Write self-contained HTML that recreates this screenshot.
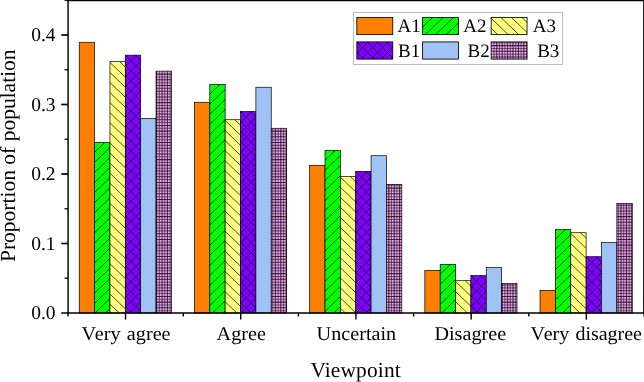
<!DOCTYPE html><html><head><meta charset="utf-8"><title>chart</title><style>html,body{margin:0;padding:0;background:#fff}svg{display:block;will-change:transform;filter:grayscale(0)}text{font-family:"Liberation Serif",serif;fill:#000;font-kerning:none;font-variant-ligatures:none;text-rendering:geometricPrecision}</style></head><body>
<svg width="644" height="382" viewBox="0 0 644 382">
<rect width="644" height="382" fill="#fff"/>
<rect x="79.24" y="42.30" width="15.36" height="270.70" fill="#FF8000"/><rect x="79.24" y="42.30" width="15.36" height="270.70" fill="none" stroke="#000" stroke-width="0.7"/>
<rect x="94.60" y="142.52" width="15.36" height="170.48" fill="#00FF00"/><path d="M94.60,152.19L104.67,142.52M94.60,162.26L109.96,147.51M94.60,172.33L109.96,157.58M94.60,182.40L109.96,167.65M94.60,192.47L109.96,177.72M94.60,202.54L109.96,187.79M94.60,212.61L109.96,197.86M94.60,222.68L109.96,207.93M94.60,232.75L109.96,218.00M94.60,242.82L109.96,228.07M94.60,252.89L109.96,238.14M94.60,262.96L109.96,248.21M94.60,273.03L109.96,258.28M94.60,283.10L109.96,268.35M94.60,293.17L109.96,278.42M94.60,303.24L109.96,288.49M94.92,313.00L109.96,298.56M105.41,313.00L109.96,308.63" stroke="#000" stroke-width="0.7" fill="none"/><rect x="94.60" y="142.52" width="15.36" height="170.48" fill="none" stroke="#000" stroke-width="0.7"/>
<rect x="109.96" y="61.62" width="15.36" height="251.38" fill="#FFFF80"/><path d="M119.62,61.62L125.32,67.09M109.96,62.42L125.32,77.16M109.96,72.49L125.32,87.23M109.96,82.56L125.32,97.30M109.96,92.63L125.32,107.37M109.96,102.70L125.32,117.44M109.96,112.77L125.32,127.51M109.96,122.84L125.32,137.58M109.96,132.91L125.32,147.65M109.96,142.98L125.32,157.72M109.96,153.05L125.32,167.79M109.96,163.12L125.32,177.86M109.96,173.19L125.32,187.93M109.96,183.26L125.32,198.00M109.96,193.33L125.32,208.07M109.96,203.40L125.32,218.14M109.96,213.47L125.32,228.21M109.96,223.54L125.32,238.28M109.96,233.61L125.32,248.35M109.96,243.68L125.32,258.42M109.96,253.75L125.32,268.49M109.96,263.82L125.32,278.56M109.96,273.89L125.32,288.63M109.96,283.96L125.32,298.70M109.96,294.03L125.32,308.77M109.96,304.10L119.23,313.00" stroke="#000" stroke-width="0.7" fill="none"/><rect x="109.96" y="61.62" width="15.36" height="251.38" fill="none" stroke="#000" stroke-width="0.7"/>
<rect x="125.32" y="55.16" width="15.36" height="257.84" fill="#8000FF"/><path d="M125.32,56.36L126.52,55.16M125.32,66.40L136.56,55.16M125.32,76.44L140.68,61.08M125.32,86.48L140.68,71.12M125.32,96.52L140.68,81.16M125.32,106.56L140.68,91.20M125.32,116.60L140.68,101.24M125.32,126.64L140.68,111.28M125.32,136.68L140.68,121.32M125.32,146.72L140.68,131.36M125.32,156.76L140.68,141.40M125.32,166.80L140.68,151.44M125.32,176.84L140.68,161.48M125.32,186.88L140.68,171.51M125.32,196.92L140.68,181.56M125.32,206.96L140.68,191.60M125.32,217.00L140.68,201.63M125.32,227.03L140.68,211.68M125.32,237.07L140.68,221.71M125.32,247.12L140.68,231.75M125.32,257.15L140.68,241.79M125.32,267.19L140.68,251.83M125.32,277.24L140.68,261.88M125.32,287.27L140.68,271.91M125.32,297.31L140.68,281.95M125.32,307.36L140.68,292.00M129.71,313.00L140.68,302.03M139.75,313.00L140.68,312.07M135.36,55.16L140.68,60.48M125.32,55.16L140.68,70.52M125.32,65.20L140.68,80.56M125.32,75.24L140.68,90.60M125.32,85.28L140.68,100.64M125.32,95.32L140.68,110.68M125.32,105.36L140.68,120.72M125.32,115.40L140.68,130.76M125.32,125.44L140.68,140.80M125.32,135.48L140.68,150.84M125.32,145.52L140.68,160.88M125.32,155.56L140.68,170.92M125.32,165.60L140.68,180.96M125.32,175.64L140.68,191.00M125.32,185.68L140.68,201.04M125.32,195.72L140.68,211.08M125.32,205.76L140.68,221.12M125.32,215.80L140.68,231.16M125.32,225.84L140.68,241.19M125.32,235.88L140.68,251.24M125.32,245.92L140.68,261.28M125.32,255.96L140.68,271.31M125.32,266.00L140.68,281.36M125.32,276.04L140.68,291.40M125.32,286.08L140.68,301.44M125.32,296.12L140.68,311.48M125.32,306.15L132.17,313.00" stroke="#000" stroke-width="0.7" fill="none"/><rect x="125.32" y="55.16" width="15.36" height="257.84" fill="none" stroke="#000" stroke-width="0.7"/>
<rect x="140.68" y="118.40" width="15.36" height="194.60" fill="#A2C3F5"/><path d="M142.2,119.9h1M145.2,119.9h1M148.2,119.9h1M151.2,119.9h1M154.2,119.9h1M143.7,122.9h1M146.7,122.9h1M149.7,122.9h1M152.7,122.9h1M142.2,125.9h1M145.2,125.9h1M148.2,125.9h1M151.2,125.9h1M154.2,125.9h1M143.7,128.9h1M146.7,128.9h1M149.7,128.9h1M152.7,128.9h1M142.2,131.9h1M145.2,131.9h1M148.2,131.9h1M151.2,131.9h1M154.2,131.9h1M143.7,134.9h1M146.7,134.9h1M149.7,134.9h1M152.7,134.9h1M142.2,137.9h1M145.2,137.9h1M148.2,137.9h1M151.2,137.9h1M154.2,137.9h1M143.7,140.9h1M146.7,140.9h1M149.7,140.9h1M152.7,140.9h1M142.2,143.9h1M145.2,143.9h1M148.2,143.9h1M151.2,143.9h1M154.2,143.9h1M143.7,146.9h1M146.7,146.9h1M149.7,146.9h1M152.7,146.9h1M142.2,149.9h1M145.2,149.9h1M148.2,149.9h1M151.2,149.9h1M154.2,149.9h1M143.7,152.9h1M146.7,152.9h1M149.7,152.9h1M152.7,152.9h1M142.2,155.9h1M145.2,155.9h1M148.2,155.9h1M151.2,155.9h1M154.2,155.9h1M143.7,158.9h1M146.7,158.9h1M149.7,158.9h1M152.7,158.9h1M142.2,161.9h1M145.2,161.9h1M148.2,161.9h1M151.2,161.9h1M154.2,161.9h1M143.7,164.9h1M146.7,164.9h1M149.7,164.9h1M152.7,164.9h1M142.2,167.9h1M145.2,167.9h1M148.2,167.9h1M151.2,167.9h1M154.2,167.9h1M143.7,170.9h1M146.7,170.9h1M149.7,170.9h1M152.7,170.9h1M142.2,173.9h1M145.2,173.9h1M148.2,173.9h1M151.2,173.9h1M154.2,173.9h1M143.7,176.9h1M146.7,176.9h1M149.7,176.9h1M152.7,176.9h1M142.2,179.9h1M145.2,179.9h1M148.2,179.9h1M151.2,179.9h1M154.2,179.9h1M143.7,182.9h1M146.7,182.9h1M149.7,182.9h1M152.7,182.9h1M142.2,185.9h1M145.2,185.9h1M148.2,185.9h1M151.2,185.9h1M154.2,185.9h1M143.7,188.9h1M146.7,188.9h1M149.7,188.9h1M152.7,188.9h1M142.2,191.9h1M145.2,191.9h1M148.2,191.9h1M151.2,191.9h1M154.2,191.9h1M143.7,194.9h1M146.7,194.9h1M149.7,194.9h1M152.7,194.9h1M142.2,197.9h1M145.2,197.9h1M148.2,197.9h1M151.2,197.9h1M154.2,197.9h1M143.7,200.9h1M146.7,200.9h1M149.7,200.9h1M152.7,200.9h1M142.2,203.9h1M145.2,203.9h1M148.2,203.9h1M151.2,203.9h1M154.2,203.9h1M143.7,206.9h1M146.7,206.9h1M149.7,206.9h1M152.7,206.9h1M142.2,209.9h1M145.2,209.9h1M148.2,209.9h1M151.2,209.9h1M154.2,209.9h1M143.7,212.9h1M146.7,212.9h1M149.7,212.9h1M152.7,212.9h1M142.2,215.9h1M145.2,215.9h1M148.2,215.9h1M151.2,215.9h1M154.2,215.9h1M143.7,218.9h1M146.7,218.9h1M149.7,218.9h1M152.7,218.9h1M142.2,221.9h1M145.2,221.9h1M148.2,221.9h1M151.2,221.9h1M154.2,221.9h1M143.7,224.9h1M146.7,224.9h1M149.7,224.9h1M152.7,224.9h1M142.2,227.9h1M145.2,227.9h1M148.2,227.9h1M151.2,227.9h1M154.2,227.9h1M143.7,230.9h1M146.7,230.9h1M149.7,230.9h1M152.7,230.9h1M142.2,233.9h1M145.2,233.9h1M148.2,233.9h1M151.2,233.9h1M154.2,233.9h1M143.7,236.9h1M146.7,236.9h1M149.7,236.9h1M152.7,236.9h1M142.2,239.9h1M145.2,239.9h1M148.2,239.9h1M151.2,239.9h1M154.2,239.9h1M143.7,242.9h1M146.7,242.9h1M149.7,242.9h1M152.7,242.9h1M142.2,245.9h1M145.2,245.9h1M148.2,245.9h1M151.2,245.9h1M154.2,245.9h1M143.7,248.9h1M146.7,248.9h1M149.7,248.9h1M152.7,248.9h1M142.2,251.9h1M145.2,251.9h1M148.2,251.9h1M151.2,251.9h1M154.2,251.9h1M143.7,254.9h1M146.7,254.9h1M149.7,254.9h1M152.7,254.9h1M142.2,257.9h1M145.2,257.9h1M148.2,257.9h1M151.2,257.9h1M154.2,257.9h1M143.7,260.9h1M146.7,260.9h1M149.7,260.9h1M152.7,260.9h1M142.2,263.9h1M145.2,263.9h1M148.2,263.9h1M151.2,263.9h1M154.2,263.9h1M143.7,266.9h1M146.7,266.9h1M149.7,266.9h1M152.7,266.9h1M142.2,269.9h1M145.2,269.9h1M148.2,269.9h1M151.2,269.9h1M154.2,269.9h1M143.7,272.9h1M146.7,272.9h1M149.7,272.9h1M152.7,272.9h1M142.2,275.9h1M145.2,275.9h1M148.2,275.9h1M151.2,275.9h1M154.2,275.9h1M143.7,278.9h1M146.7,278.9h1M149.7,278.9h1M152.7,278.9h1M142.2,281.9h1M145.2,281.9h1M148.2,281.9h1M151.2,281.9h1M154.2,281.9h1M143.7,284.9h1M146.7,284.9h1M149.7,284.9h1M152.7,284.9h1M142.2,287.9h1M145.2,287.9h1M148.2,287.9h1M151.2,287.9h1M154.2,287.9h1M143.7,290.9h1M146.7,290.9h1M149.7,290.9h1M152.7,290.9h1M142.2,293.9h1M145.2,293.9h1M148.2,293.9h1M151.2,293.9h1M154.2,293.9h1M143.7,296.9h1M146.7,296.9h1M149.7,296.9h1M152.7,296.9h1M142.2,299.9h1M145.2,299.9h1M148.2,299.9h1M151.2,299.9h1M154.2,299.9h1M143.7,302.9h1M146.7,302.9h1M149.7,302.9h1M152.7,302.9h1M142.2,305.9h1M145.2,305.9h1M148.2,305.9h1M151.2,305.9h1M154.2,305.9h1M143.7,308.9h1M146.7,308.9h1M149.7,308.9h1M152.7,308.9h1M142.2,311.9h1M145.2,311.9h1M148.2,311.9h1M151.2,311.9h1M154.2,311.9h1" stroke="#7FA0DC" stroke-opacity="0.3" stroke-width="1" fill="none"/><rect x="140.68" y="118.40" width="15.36" height="194.60" fill="none" stroke="#000" stroke-width="0.7"/>
<rect x="156.04" y="71.14" width="15.36" height="241.86" fill="#F0A3F0"/><path d="M156.60,71.14V313.00M162.00,71.14V313.00M167.40,71.14V313.00" stroke="#000" stroke-opacity="0.72" stroke-width="1.05" fill="none"/><path d="M159.30,71.14V313.00M164.70,71.14V313.00M170.10,71.14V313.00" stroke="#000" stroke-opacity="0.5" stroke-width="1.05" fill="none"/><path d="M156.04,74.10H171.40M156.04,79.80H171.40M156.04,85.50H171.40M156.04,91.20H171.40M156.04,96.90H171.40M156.04,102.60H171.40M156.04,108.30H171.40M156.04,114.00H171.40M156.04,119.70H171.40M156.04,125.40H171.40M156.04,131.10H171.40M156.04,136.80H171.40M156.04,142.50H171.40M156.04,148.20H171.40M156.04,153.90H171.40M156.04,159.60H171.40M156.04,165.30H171.40M156.04,171.00H171.40M156.04,176.70H171.40M156.04,182.40H171.40M156.04,188.10H171.40M156.04,193.80H171.40M156.04,199.50H171.40M156.04,205.20H171.40M156.04,210.90H171.40M156.04,216.60H171.40M156.04,222.30H171.40M156.04,228.00H171.40M156.04,233.70H171.40M156.04,239.40H171.40M156.04,245.10H171.40M156.04,250.80H171.40M156.04,256.50H171.40M156.04,262.20H171.40M156.04,267.90H171.40M156.04,273.60H171.40M156.04,279.30H171.40M156.04,285.00H171.40M156.04,290.70H171.40M156.04,296.40H171.40M156.04,302.10H171.40M156.04,307.80H171.40" stroke="#000" stroke-opacity="0.72" stroke-width="1.05" fill="none"/><path d="M156.04,76.95H171.40M156.04,82.65H171.40M156.04,88.35H171.40M156.04,94.05H171.40M156.04,99.75H171.40M156.04,105.45H171.40M156.04,111.15H171.40M156.04,116.85H171.40M156.04,122.55H171.40M156.04,128.25H171.40M156.04,133.95H171.40M156.04,139.65H171.40M156.04,145.35H171.40M156.04,151.05H171.40M156.04,156.75H171.40M156.04,162.45H171.40M156.04,168.15H171.40M156.04,173.85H171.40M156.04,179.55H171.40M156.04,185.25H171.40M156.04,190.95H171.40M156.04,196.65H171.40M156.04,202.35H171.40M156.04,208.05H171.40M156.04,213.75H171.40M156.04,219.45H171.40M156.04,225.15H171.40M156.04,230.85H171.40M156.04,236.55H171.40M156.04,242.25H171.40M156.04,247.95H171.40M156.04,253.65H171.40M156.04,259.35H171.40M156.04,265.05H171.40M156.04,270.75H171.40M156.04,276.45H171.40M156.04,282.15H171.40M156.04,287.85H171.40M156.04,293.55H171.40M156.04,299.25H171.40M156.04,304.95H171.40M156.04,310.65H171.40" stroke="#000" stroke-opacity="0.5" stroke-width="1.05" fill="none"/><rect x="156.04" y="71.14" width="15.36" height="241.86" fill="none" stroke="#000" stroke-width="0.7"/>
<rect x="194.44" y="102.28" width="15.36" height="210.72" fill="#FF8000"/><rect x="194.44" y="102.28" width="15.36" height="210.72" fill="none" stroke="#000" stroke-width="0.7"/>
<rect x="209.80" y="84.41" width="15.36" height="228.59" fill="#00FF00"/><path d="M209.80,94.08L219.87,84.41M209.80,104.15L225.16,89.41M209.80,114.22L225.16,99.48M209.80,124.29L225.16,109.55M209.80,134.36L225.16,119.62M209.80,144.43L225.16,129.69M209.80,154.50L225.16,139.76M209.80,164.57L225.16,149.83M209.80,174.64L225.16,159.90M209.80,184.71L225.16,169.97M209.80,194.78L225.16,180.04M209.80,204.85L225.16,190.11M209.80,214.92L225.16,200.18M209.80,224.99L225.16,210.25M209.80,235.06L225.16,220.32M209.80,245.13L225.16,230.39M209.80,255.20L225.16,240.46M209.80,265.27L225.16,250.53M209.80,275.34L225.16,260.60M209.80,285.41L225.16,270.67M209.80,295.48L225.16,280.74M209.80,305.55L225.16,290.81M212.53,313.00L225.16,300.88M223.02,313.00L225.16,310.95" stroke="#000" stroke-width="0.7" fill="none"/><rect x="209.80" y="84.41" width="15.36" height="228.59" fill="none" stroke="#000" stroke-width="0.7"/>
<rect x="225.16" y="119.72" width="15.36" height="193.28" fill="#FFFF80"/><path d="M234.82,119.72L240.52,125.20M225.16,120.52L240.52,135.27M225.16,130.59L240.52,145.34M225.16,140.66L240.52,155.41M225.16,150.73L240.52,165.48M225.16,160.80L240.52,175.55M225.16,170.87L240.52,185.62M225.16,180.94L240.52,195.69M225.16,191.01L240.52,205.76M225.16,201.08L240.52,215.83M225.16,211.15L240.52,225.90M225.16,221.22L240.52,235.97M225.16,231.29L240.52,246.04M225.16,241.36L240.52,256.11M225.16,251.43L240.52,266.18M225.16,261.50L240.52,276.25M225.16,271.57L240.52,286.32M225.16,281.64L240.52,296.39M225.16,291.71L240.52,306.46M225.16,301.78L236.85,313.00M225.16,311.85L226.36,313.00" stroke="#000" stroke-width="0.7" fill="none"/><rect x="225.16" y="119.72" width="15.36" height="193.28" fill="none" stroke="#000" stroke-width="0.7"/>
<rect x="240.52" y="111.45" width="15.36" height="201.55" fill="#8000FF"/><path d="M240.52,112.65L241.72,111.45M240.52,122.69L251.76,111.45M240.52,132.73L255.88,117.37M240.52,142.77L255.88,127.41M240.52,152.81L255.88,137.45M240.52,162.85L255.88,147.49M240.52,172.89L255.88,157.53M240.52,182.93L255.88,167.57M240.52,192.97L255.88,177.61M240.52,203.01L255.88,187.65M240.52,213.05L255.88,197.69M240.52,223.09L255.88,207.73M240.52,233.13L255.88,217.77M240.52,243.17L255.88,227.81M240.52,253.21L255.88,237.85M240.52,263.25L255.88,247.89M240.52,273.29L255.88,257.93M240.52,283.33L255.88,267.97M240.52,293.37L255.88,278.01M240.52,303.41L255.88,288.05M240.97,313.00L255.88,298.09M251.01,313.00L255.88,308.13M250.56,111.45L255.88,116.77M240.52,111.45L255.88,126.81M240.52,121.49L255.88,136.85M240.52,131.53L255.88,146.89M240.52,141.57L255.88,156.93M240.52,151.61L255.88,166.97M240.52,161.65L255.88,177.01M240.52,171.69L255.88,187.05M240.52,181.73L255.88,197.09M240.52,191.77L255.88,207.13M240.52,201.81L255.88,217.17M240.52,211.85L255.88,227.21M240.52,221.89L255.88,237.25M240.52,231.93L255.88,247.29M240.52,241.97L255.88,257.33M240.52,252.01L255.88,267.37M240.52,262.05L255.88,277.41M240.52,272.09L255.88,287.45M240.52,282.13L255.88,297.49M240.52,292.17L255.88,307.53M240.52,302.21L251.31,313.00M240.52,312.25L241.27,313.00" stroke="#000" stroke-width="0.7" fill="none"/><rect x="240.52" y="111.45" width="15.36" height="201.55" fill="none" stroke="#000" stroke-width="0.7"/>
<rect x="255.88" y="87.26" width="15.36" height="225.74" fill="#A2C3F5"/><path d="M257.4,88.8h1M260.4,88.8h1M263.4,88.8h1M266.4,88.8h1M269.4,88.8h1M258.9,91.8h1M261.9,91.8h1M264.9,91.8h1M267.9,91.8h1M257.4,94.8h1M260.4,94.8h1M263.4,94.8h1M266.4,94.8h1M269.4,94.8h1M258.9,97.8h1M261.9,97.8h1M264.9,97.8h1M267.9,97.8h1M257.4,100.8h1M260.4,100.8h1M263.4,100.8h1M266.4,100.8h1M269.4,100.8h1M258.9,103.8h1M261.9,103.8h1M264.9,103.8h1M267.9,103.8h1M257.4,106.8h1M260.4,106.8h1M263.4,106.8h1M266.4,106.8h1M269.4,106.8h1M258.9,109.8h1M261.9,109.8h1M264.9,109.8h1M267.9,109.8h1M257.4,112.8h1M260.4,112.8h1M263.4,112.8h1M266.4,112.8h1M269.4,112.8h1M258.9,115.8h1M261.9,115.8h1M264.9,115.8h1M267.9,115.8h1M257.4,118.8h1M260.4,118.8h1M263.4,118.8h1M266.4,118.8h1M269.4,118.8h1M258.9,121.8h1M261.9,121.8h1M264.9,121.8h1M267.9,121.8h1M257.4,124.8h1M260.4,124.8h1M263.4,124.8h1M266.4,124.8h1M269.4,124.8h1M258.9,127.8h1M261.9,127.8h1M264.9,127.8h1M267.9,127.8h1M257.4,130.8h1M260.4,130.8h1M263.4,130.8h1M266.4,130.8h1M269.4,130.8h1M258.9,133.8h1M261.9,133.8h1M264.9,133.8h1M267.9,133.8h1M257.4,136.8h1M260.4,136.8h1M263.4,136.8h1M266.4,136.8h1M269.4,136.8h1M258.9,139.8h1M261.9,139.8h1M264.9,139.8h1M267.9,139.8h1M257.4,142.8h1M260.4,142.8h1M263.4,142.8h1M266.4,142.8h1M269.4,142.8h1M258.9,145.8h1M261.9,145.8h1M264.9,145.8h1M267.9,145.8h1M257.4,148.8h1M260.4,148.8h1M263.4,148.8h1M266.4,148.8h1M269.4,148.8h1M258.9,151.8h1M261.9,151.8h1M264.9,151.8h1M267.9,151.8h1M257.4,154.8h1M260.4,154.8h1M263.4,154.8h1M266.4,154.8h1M269.4,154.8h1M258.9,157.8h1M261.9,157.8h1M264.9,157.8h1M267.9,157.8h1M257.4,160.8h1M260.4,160.8h1M263.4,160.8h1M266.4,160.8h1M269.4,160.8h1M258.9,163.8h1M261.9,163.8h1M264.9,163.8h1M267.9,163.8h1M257.4,166.8h1M260.4,166.8h1M263.4,166.8h1M266.4,166.8h1M269.4,166.8h1M258.9,169.8h1M261.9,169.8h1M264.9,169.8h1M267.9,169.8h1M257.4,172.8h1M260.4,172.8h1M263.4,172.8h1M266.4,172.8h1M269.4,172.8h1M258.9,175.8h1M261.9,175.8h1M264.9,175.8h1M267.9,175.8h1M257.4,178.8h1M260.4,178.8h1M263.4,178.8h1M266.4,178.8h1M269.4,178.8h1M258.9,181.8h1M261.9,181.8h1M264.9,181.8h1M267.9,181.8h1M257.4,184.8h1M260.4,184.8h1M263.4,184.8h1M266.4,184.8h1M269.4,184.8h1M258.9,187.8h1M261.9,187.8h1M264.9,187.8h1M267.9,187.8h1M257.4,190.8h1M260.4,190.8h1M263.4,190.8h1M266.4,190.8h1M269.4,190.8h1M258.9,193.8h1M261.9,193.8h1M264.9,193.8h1M267.9,193.8h1M257.4,196.8h1M260.4,196.8h1M263.4,196.8h1M266.4,196.8h1M269.4,196.8h1M258.9,199.8h1M261.9,199.8h1M264.9,199.8h1M267.9,199.8h1M257.4,202.8h1M260.4,202.8h1M263.4,202.8h1M266.4,202.8h1M269.4,202.8h1M258.9,205.8h1M261.9,205.8h1M264.9,205.8h1M267.9,205.8h1M257.4,208.8h1M260.4,208.8h1M263.4,208.8h1M266.4,208.8h1M269.4,208.8h1M258.9,211.8h1M261.9,211.8h1M264.9,211.8h1M267.9,211.8h1M257.4,214.8h1M260.4,214.8h1M263.4,214.8h1M266.4,214.8h1M269.4,214.8h1M258.9,217.8h1M261.9,217.8h1M264.9,217.8h1M267.9,217.8h1M257.4,220.8h1M260.4,220.8h1M263.4,220.8h1M266.4,220.8h1M269.4,220.8h1M258.9,223.8h1M261.9,223.8h1M264.9,223.8h1M267.9,223.8h1M257.4,226.8h1M260.4,226.8h1M263.4,226.8h1M266.4,226.8h1M269.4,226.8h1M258.9,229.8h1M261.9,229.8h1M264.9,229.8h1M267.9,229.8h1M257.4,232.8h1M260.4,232.8h1M263.4,232.8h1M266.4,232.8h1M269.4,232.8h1M258.9,235.8h1M261.9,235.8h1M264.9,235.8h1M267.9,235.8h1M257.4,238.8h1M260.4,238.8h1M263.4,238.8h1M266.4,238.8h1M269.4,238.8h1M258.9,241.8h1M261.9,241.8h1M264.9,241.8h1M267.9,241.8h1M257.4,244.8h1M260.4,244.8h1M263.4,244.8h1M266.4,244.8h1M269.4,244.8h1M258.9,247.8h1M261.9,247.8h1M264.9,247.8h1M267.9,247.8h1M257.4,250.8h1M260.4,250.8h1M263.4,250.8h1M266.4,250.8h1M269.4,250.8h1M258.9,253.8h1M261.9,253.8h1M264.9,253.8h1M267.9,253.8h1M257.4,256.8h1M260.4,256.8h1M263.4,256.8h1M266.4,256.8h1M269.4,256.8h1M258.9,259.8h1M261.9,259.8h1M264.9,259.8h1M267.9,259.8h1M257.4,262.8h1M260.4,262.8h1M263.4,262.8h1M266.4,262.8h1M269.4,262.8h1M258.9,265.8h1M261.9,265.8h1M264.9,265.8h1M267.9,265.8h1M257.4,268.8h1M260.4,268.8h1M263.4,268.8h1M266.4,268.8h1M269.4,268.8h1M258.9,271.8h1M261.9,271.8h1M264.9,271.8h1M267.9,271.8h1M257.4,274.8h1M260.4,274.8h1M263.4,274.8h1M266.4,274.8h1M269.4,274.8h1M258.9,277.8h1M261.9,277.8h1M264.9,277.8h1M267.9,277.8h1M257.4,280.8h1M260.4,280.8h1M263.4,280.8h1M266.4,280.8h1M269.4,280.8h1M258.9,283.8h1M261.9,283.8h1M264.9,283.8h1M267.9,283.8h1M257.4,286.8h1M260.4,286.8h1M263.4,286.8h1M266.4,286.8h1M269.4,286.8h1M258.9,289.8h1M261.9,289.8h1M264.9,289.8h1M267.9,289.8h1M257.4,292.8h1M260.4,292.8h1M263.4,292.8h1M266.4,292.8h1M269.4,292.8h1M258.9,295.8h1M261.9,295.8h1M264.9,295.8h1M267.9,295.8h1M257.4,298.8h1M260.4,298.8h1M263.4,298.8h1M266.4,298.8h1M269.4,298.8h1M258.9,301.8h1M261.9,301.8h1M264.9,301.8h1M267.9,301.8h1M257.4,304.8h1M260.4,304.8h1M263.4,304.8h1M266.4,304.8h1M269.4,304.8h1M258.9,307.8h1M261.9,307.8h1M264.9,307.8h1M267.9,307.8h1M257.4,310.8h1M260.4,310.8h1M263.4,310.8h1M266.4,310.8h1M269.4,310.8h1" stroke="#7FA0DC" stroke-opacity="0.3" stroke-width="1" fill="none"/><rect x="255.88" y="87.26" width="15.36" height="225.74" fill="none" stroke="#000" stroke-width="0.7"/>
<rect x="271.24" y="128.27" width="15.36" height="184.73" fill="#F0A3F0"/><path d="M275.40,128.27V313.00M280.80,128.27V313.00M286.20,128.27V313.00" stroke="#000" stroke-opacity="0.72" stroke-width="1.05" fill="none"/><path d="M272.70,128.27V313.00M278.10,128.27V313.00M283.50,128.27V313.00" stroke="#000" stroke-opacity="0.5" stroke-width="1.05" fill="none"/><path d="M271.24,131.10H286.60M271.24,136.80H286.60M271.24,142.50H286.60M271.24,148.20H286.60M271.24,153.90H286.60M271.24,159.60H286.60M271.24,165.30H286.60M271.24,171.00H286.60M271.24,176.70H286.60M271.24,182.40H286.60M271.24,188.10H286.60M271.24,193.80H286.60M271.24,199.50H286.60M271.24,205.20H286.60M271.24,210.90H286.60M271.24,216.60H286.60M271.24,222.30H286.60M271.24,228.00H286.60M271.24,233.70H286.60M271.24,239.40H286.60M271.24,245.10H286.60M271.24,250.80H286.60M271.24,256.50H286.60M271.24,262.20H286.60M271.24,267.90H286.60M271.24,273.60H286.60M271.24,279.30H286.60M271.24,285.00H286.60M271.24,290.70H286.60M271.24,296.40H286.60M271.24,302.10H286.60M271.24,307.80H286.60" stroke="#000" stroke-opacity="0.72" stroke-width="1.05" fill="none"/><path d="M271.24,133.95H286.60M271.24,139.65H286.60M271.24,145.35H286.60M271.24,151.05H286.60M271.24,156.75H286.60M271.24,162.45H286.60M271.24,168.15H286.60M271.24,173.85H286.60M271.24,179.55H286.60M271.24,185.25H286.60M271.24,190.95H286.60M271.24,196.65H286.60M271.24,202.35H286.60M271.24,208.05H286.60M271.24,213.75H286.60M271.24,219.45H286.60M271.24,225.15H286.60M271.24,230.85H286.60M271.24,236.55H286.60M271.24,242.25H286.60M271.24,247.95H286.60M271.24,253.65H286.60M271.24,259.35H286.60M271.24,265.05H286.60M271.24,270.75H286.60M271.24,276.45H286.60M271.24,282.15H286.60M271.24,287.85H286.60M271.24,293.55H286.60M271.24,299.25H286.60M271.24,304.95H286.60M271.24,310.65H286.60" stroke="#000" stroke-opacity="0.5" stroke-width="1.05" fill="none"/><rect x="271.24" y="128.27" width="15.36" height="184.73" fill="none" stroke="#000" stroke-width="0.7"/>
<rect x="309.64" y="165.31" width="15.36" height="147.69" fill="#FF8000"/><rect x="309.64" y="165.31" width="15.36" height="147.69" fill="none" stroke="#000" stroke-width="0.7"/>
<rect x="325.00" y="150.58" width="15.36" height="162.42" fill="#00FF00"/><path d="M325.00,160.25L335.07,150.58M325.00,170.32L340.36,155.57M325.00,180.39L340.36,165.64M325.00,190.46L340.36,175.71M325.00,200.53L340.36,185.78M325.00,210.60L340.36,195.85M325.00,220.67L340.36,205.92M325.00,230.74L340.36,215.99M325.00,240.81L340.36,226.06M325.00,250.88L340.36,236.13M325.00,260.95L340.36,246.20M325.00,271.02L340.36,256.27M325.00,281.09L340.36,266.34M325.00,291.16L340.36,276.41M325.00,301.23L340.36,286.48M325.00,311.30L340.36,296.55M333.72,313.00L340.36,306.62" stroke="#000" stroke-width="0.7" fill="none"/><rect x="325.00" y="150.58" width="15.36" height="162.42" fill="none" stroke="#000" stroke-width="0.7"/>
<rect x="340.36" y="176.36" width="15.36" height="136.64" fill="#FFFF80"/><path d="M350.02,176.36L355.72,181.84M340.36,177.16L355.72,191.91M340.36,187.23L355.72,201.98M340.36,197.30L355.72,212.05M340.36,207.37L355.72,222.12M340.36,217.44L355.72,232.19M340.36,227.51L355.72,242.26M340.36,237.58L355.72,252.33M340.36,247.65L355.72,262.40M340.36,257.72L355.72,272.47M340.36,267.79L355.72,282.54M340.36,277.86L355.72,292.61M340.36,287.93L355.72,302.68M340.36,298.00L355.72,312.75M340.36,308.07L345.49,313.00" stroke="#000" stroke-width="0.7" fill="none"/><rect x="340.36" y="176.36" width="15.36" height="136.64" fill="none" stroke="#000" stroke-width="0.7"/>
<rect x="355.72" y="171.43" width="15.36" height="141.57" fill="#8000FF"/><path d="M355.72,172.63L356.92,171.43M355.72,182.67L366.96,171.43M355.72,192.71L371.08,177.35M355.72,202.75L371.08,187.39M355.72,212.79L371.08,197.43M355.72,222.83L371.08,207.47M355.72,232.87L371.08,217.51M355.72,242.91L371.08,227.55M355.72,252.95L371.08,237.59M355.72,262.99L371.08,247.63M355.72,273.03L371.08,257.67M355.72,283.07L371.08,267.71M355.72,293.11L371.08,277.75M355.72,303.15L371.08,287.79M355.91,313.00L371.08,297.83M365.95,313.00L371.08,307.87M365.76,171.43L371.08,176.75M355.72,171.43L371.08,186.79M355.72,181.47L371.08,196.83M355.72,191.51L371.08,206.87M355.72,201.55L371.08,216.91M355.72,211.59L371.08,226.95M355.72,221.63L371.08,236.99M355.72,231.67L371.08,247.03M355.72,241.71L371.08,257.07M355.72,251.75L371.08,267.11M355.72,261.79L371.08,277.15M355.72,271.83L371.08,287.19M355.72,281.87L371.08,297.23M355.72,291.91L371.08,307.27M355.72,301.95L366.77,313.00M355.72,311.99L356.73,313.00" stroke="#000" stroke-width="0.7" fill="none"/><rect x="355.72" y="171.43" width="15.36" height="141.57" fill="none" stroke="#000" stroke-width="0.7"/>
<rect x="371.08" y="155.72" width="15.36" height="157.28" fill="#A2C3F5"/><path d="M372.6,157.2h1M375.6,157.2h1M378.6,157.2h1M381.6,157.2h1M384.6,157.2h1M374.1,160.2h1M377.1,160.2h1M380.1,160.2h1M383.1,160.2h1M372.6,163.2h1M375.6,163.2h1M378.6,163.2h1M381.6,163.2h1M384.6,163.2h1M374.1,166.2h1M377.1,166.2h1M380.1,166.2h1M383.1,166.2h1M372.6,169.2h1M375.6,169.2h1M378.6,169.2h1M381.6,169.2h1M384.6,169.2h1M374.1,172.2h1M377.1,172.2h1M380.1,172.2h1M383.1,172.2h1M372.6,175.2h1M375.6,175.2h1M378.6,175.2h1M381.6,175.2h1M384.6,175.2h1M374.1,178.2h1M377.1,178.2h1M380.1,178.2h1M383.1,178.2h1M372.6,181.2h1M375.6,181.2h1M378.6,181.2h1M381.6,181.2h1M384.6,181.2h1M374.1,184.2h1M377.1,184.2h1M380.1,184.2h1M383.1,184.2h1M372.6,187.2h1M375.6,187.2h1M378.6,187.2h1M381.6,187.2h1M384.6,187.2h1M374.1,190.2h1M377.1,190.2h1M380.1,190.2h1M383.1,190.2h1M372.6,193.2h1M375.6,193.2h1M378.6,193.2h1M381.6,193.2h1M384.6,193.2h1M374.1,196.2h1M377.1,196.2h1M380.1,196.2h1M383.1,196.2h1M372.6,199.2h1M375.6,199.2h1M378.6,199.2h1M381.6,199.2h1M384.6,199.2h1M374.1,202.2h1M377.1,202.2h1M380.1,202.2h1M383.1,202.2h1M372.6,205.2h1M375.6,205.2h1M378.6,205.2h1M381.6,205.2h1M384.6,205.2h1M374.1,208.2h1M377.1,208.2h1M380.1,208.2h1M383.1,208.2h1M372.6,211.2h1M375.6,211.2h1M378.6,211.2h1M381.6,211.2h1M384.6,211.2h1M374.1,214.2h1M377.1,214.2h1M380.1,214.2h1M383.1,214.2h1M372.6,217.2h1M375.6,217.2h1M378.6,217.2h1M381.6,217.2h1M384.6,217.2h1M374.1,220.2h1M377.1,220.2h1M380.1,220.2h1M383.1,220.2h1M372.6,223.2h1M375.6,223.2h1M378.6,223.2h1M381.6,223.2h1M384.6,223.2h1M374.1,226.2h1M377.1,226.2h1M380.1,226.2h1M383.1,226.2h1M372.6,229.2h1M375.6,229.2h1M378.6,229.2h1M381.6,229.2h1M384.6,229.2h1M374.1,232.2h1M377.1,232.2h1M380.1,232.2h1M383.1,232.2h1M372.6,235.2h1M375.6,235.2h1M378.6,235.2h1M381.6,235.2h1M384.6,235.2h1M374.1,238.2h1M377.1,238.2h1M380.1,238.2h1M383.1,238.2h1M372.6,241.2h1M375.6,241.2h1M378.6,241.2h1M381.6,241.2h1M384.6,241.2h1M374.1,244.2h1M377.1,244.2h1M380.1,244.2h1M383.1,244.2h1M372.6,247.2h1M375.6,247.2h1M378.6,247.2h1M381.6,247.2h1M384.6,247.2h1M374.1,250.2h1M377.1,250.2h1M380.1,250.2h1M383.1,250.2h1M372.6,253.2h1M375.6,253.2h1M378.6,253.2h1M381.6,253.2h1M384.6,253.2h1M374.1,256.2h1M377.1,256.2h1M380.1,256.2h1M383.1,256.2h1M372.6,259.2h1M375.6,259.2h1M378.6,259.2h1M381.6,259.2h1M384.6,259.2h1M374.1,262.2h1M377.1,262.2h1M380.1,262.2h1M383.1,262.2h1M372.6,265.2h1M375.6,265.2h1M378.6,265.2h1M381.6,265.2h1M384.6,265.2h1M374.1,268.2h1M377.1,268.2h1M380.1,268.2h1M383.1,268.2h1M372.6,271.2h1M375.6,271.2h1M378.6,271.2h1M381.6,271.2h1M384.6,271.2h1M374.1,274.2h1M377.1,274.2h1M380.1,274.2h1M383.1,274.2h1M372.6,277.2h1M375.6,277.2h1M378.6,277.2h1M381.6,277.2h1M384.6,277.2h1M374.1,280.2h1M377.1,280.2h1M380.1,280.2h1M383.1,280.2h1M372.6,283.2h1M375.6,283.2h1M378.6,283.2h1M381.6,283.2h1M384.6,283.2h1M374.1,286.2h1M377.1,286.2h1M380.1,286.2h1M383.1,286.2h1M372.6,289.2h1M375.6,289.2h1M378.6,289.2h1M381.6,289.2h1M384.6,289.2h1M374.1,292.2h1M377.1,292.2h1M380.1,292.2h1M383.1,292.2h1M372.6,295.2h1M375.6,295.2h1M378.6,295.2h1M381.6,295.2h1M384.6,295.2h1M374.1,298.2h1M377.1,298.2h1M380.1,298.2h1M383.1,298.2h1M372.6,301.2h1M375.6,301.2h1M378.6,301.2h1M381.6,301.2h1M384.6,301.2h1M374.1,304.2h1M377.1,304.2h1M380.1,304.2h1M383.1,304.2h1M372.6,307.2h1M375.6,307.2h1M378.6,307.2h1M381.6,307.2h1M384.6,307.2h1M374.1,310.2h1M377.1,310.2h1M380.1,310.2h1M383.1,310.2h1" stroke="#7FA0DC" stroke-opacity="0.3" stroke-width="1" fill="none"/><rect x="371.08" y="155.72" width="15.36" height="157.28" fill="none" stroke="#000" stroke-width="0.7"/>
<rect x="386.44" y="184.43" width="15.36" height="128.57" fill="#F0A3F0"/><path d="M388.80,184.43V313.00M394.20,184.43V313.00M399.60,184.43V313.00" stroke="#000" stroke-opacity="0.72" stroke-width="1.05" fill="none"/><path d="M391.50,184.43V313.00M396.90,184.43V313.00" stroke="#000" stroke-opacity="0.5" stroke-width="1.05" fill="none"/><path d="M386.44,188.10H401.80M386.44,193.80H401.80M386.44,199.50H401.80M386.44,205.20H401.80M386.44,210.90H401.80M386.44,216.60H401.80M386.44,222.30H401.80M386.44,228.00H401.80M386.44,233.70H401.80M386.44,239.40H401.80M386.44,245.10H401.80M386.44,250.80H401.80M386.44,256.50H401.80M386.44,262.20H401.80M386.44,267.90H401.80M386.44,273.60H401.80M386.44,279.30H401.80M386.44,285.00H401.80M386.44,290.70H401.80M386.44,296.40H401.80M386.44,302.10H401.80M386.44,307.80H401.80" stroke="#000" stroke-opacity="0.72" stroke-width="1.05" fill="none"/><path d="M386.44,185.25H401.80M386.44,190.95H401.80M386.44,196.65H401.80M386.44,202.35H401.80M386.44,208.05H401.80M386.44,213.75H401.80M386.44,219.45H401.80M386.44,225.15H401.80M386.44,230.85H401.80M386.44,236.55H401.80M386.44,242.25H401.80M386.44,247.95H401.80M386.44,253.65H401.80M386.44,259.35H401.80M386.44,265.05H401.80M386.44,270.75H401.80M386.44,276.45H401.80M386.44,282.15H401.80M386.44,287.85H401.80M386.44,293.55H401.80M386.44,299.25H401.80M386.44,304.95H401.80M386.44,310.65H401.80" stroke="#000" stroke-opacity="0.5" stroke-width="1.05" fill="none"/><rect x="386.44" y="184.43" width="15.36" height="128.57" fill="none" stroke="#000" stroke-width="0.7"/>
<rect x="424.84" y="270.47" width="15.36" height="42.53" fill="#FF8000"/><rect x="424.84" y="270.47" width="15.36" height="42.53" fill="none" stroke="#000" stroke-width="0.7"/>
<rect x="440.20" y="264.49" width="15.36" height="48.51" fill="#00FF00"/><path d="M440.20,274.16L450.27,264.49M440.20,284.23L455.56,269.48M440.20,294.30L455.56,279.55M440.20,304.37L455.56,289.62M441.70,313.00L455.56,299.69M452.19,313.00L455.56,309.76" stroke="#000" stroke-width="0.7" fill="none"/><rect x="440.20" y="264.49" width="15.36" height="48.51" fill="none" stroke="#000" stroke-width="0.7"/>
<rect x="455.56" y="280.68" width="15.36" height="32.32" fill="#FFFF80"/><path d="M465.22,280.68L470.92,286.16M455.56,281.48L470.92,296.23M455.56,291.55L470.92,306.30M455.56,301.62L467.41,313.00M455.56,311.69L456.92,313.00" stroke="#000" stroke-width="0.7" fill="none"/><rect x="455.56" y="280.68" width="15.36" height="32.32" fill="none" stroke="#000" stroke-width="0.7"/>
<rect x="470.92" y="275.61" width="15.36" height="37.39" fill="#8000FF"/><path d="M470.92,276.81L472.12,275.61M470.92,286.85L482.16,275.61M470.92,296.89L486.28,281.53M470.92,306.93L486.28,291.57M474.89,313.00L486.28,301.61M484.93,313.00L486.28,311.65M480.96,275.61L486.28,280.93M470.92,275.61L486.28,290.97M470.92,285.65L486.28,301.01M470.92,295.69L486.28,311.05M470.92,305.73L478.19,313.00" stroke="#000" stroke-width="0.7" fill="none"/><rect x="470.92" y="275.61" width="15.36" height="37.39" fill="none" stroke="#000" stroke-width="0.7"/>
<rect x="486.28" y="267.62" width="15.36" height="45.38" fill="#A2C3F5"/><path d="M487.8,269.1h1M490.8,269.1h1M493.8,269.1h1M496.8,269.1h1M499.8,269.1h1M489.3,272.1h1M492.3,272.1h1M495.3,272.1h1M498.3,272.1h1M487.8,275.1h1M490.8,275.1h1M493.8,275.1h1M496.8,275.1h1M499.8,275.1h1M489.3,278.1h1M492.3,278.1h1M495.3,278.1h1M498.3,278.1h1M487.8,281.1h1M490.8,281.1h1M493.8,281.1h1M496.8,281.1h1M499.8,281.1h1M489.3,284.1h1M492.3,284.1h1M495.3,284.1h1M498.3,284.1h1M487.8,287.1h1M490.8,287.1h1M493.8,287.1h1M496.8,287.1h1M499.8,287.1h1M489.3,290.1h1M492.3,290.1h1M495.3,290.1h1M498.3,290.1h1M487.8,293.1h1M490.8,293.1h1M493.8,293.1h1M496.8,293.1h1M499.8,293.1h1M489.3,296.1h1M492.3,296.1h1M495.3,296.1h1M498.3,296.1h1M487.8,299.1h1M490.8,299.1h1M493.8,299.1h1M496.8,299.1h1M499.8,299.1h1M489.3,302.1h1M492.3,302.1h1M495.3,302.1h1M498.3,302.1h1M487.8,305.1h1M490.8,305.1h1M493.8,305.1h1M496.8,305.1h1M499.8,305.1h1M489.3,308.1h1M492.3,308.1h1M495.3,308.1h1M498.3,308.1h1M487.8,311.1h1M490.8,311.1h1M493.8,311.1h1M496.8,311.1h1M499.8,311.1h1" stroke="#7FA0DC" stroke-opacity="0.3" stroke-width="1" fill="none"/><rect x="486.28" y="267.62" width="15.36" height="45.38" fill="none" stroke="#000" stroke-width="0.7"/>
<rect x="501.64" y="283.60" width="15.36" height="29.40" fill="#F0A3F0"/><path d="M502.20,283.60V313.00M507.60,283.60V313.00M513.00,283.60V313.00" stroke="#000" stroke-opacity="0.72" stroke-width="1.05" fill="none"/><path d="M504.90,283.60V313.00M510.30,283.60V313.00M515.70,283.60V313.00" stroke="#000" stroke-opacity="0.5" stroke-width="1.05" fill="none"/><path d="M501.64,285.00H517.00M501.64,290.70H517.00M501.64,296.40H517.00M501.64,302.10H517.00M501.64,307.80H517.00" stroke="#000" stroke-opacity="0.72" stroke-width="1.05" fill="none"/><path d="M501.64,287.85H517.00M501.64,293.55H517.00M501.64,299.25H517.00M501.64,304.95H517.00M501.64,310.65H517.00" stroke="#000" stroke-opacity="0.5" stroke-width="1.05" fill="none"/><rect x="501.64" y="283.60" width="15.36" height="29.40" fill="none" stroke="#000" stroke-width="0.7"/>
<rect x="540.04" y="290.41" width="15.36" height="22.59" fill="#FF8000"/><rect x="540.04" y="290.41" width="15.36" height="22.59" fill="none" stroke="#000" stroke-width="0.7"/>
<rect x="555.40" y="229.60" width="15.36" height="83.40" fill="#00FF00"/><path d="M555.40,239.27L565.47,229.60M555.40,249.34L570.76,234.59M555.40,259.41L570.76,244.66M555.40,269.48L570.76,254.73M555.40,279.55L570.76,264.80M555.40,289.62L570.76,274.87M555.40,299.69L570.76,284.94M555.40,309.76L570.76,295.01M562.51,313.00L570.76,305.08" stroke="#000" stroke-width="0.7" fill="none"/><rect x="555.40" y="229.60" width="15.36" height="83.40" fill="none" stroke="#000" stroke-width="0.7"/>
<rect x="570.76" y="232.73" width="15.36" height="80.27" fill="#FFFF80"/><path d="M580.42,232.73L586.12,238.20M570.76,233.53L586.12,248.27M570.76,243.60L586.12,258.34M570.76,253.67L586.12,268.41M570.76,263.74L586.12,278.48M570.76,273.81L586.12,288.55M570.76,283.88L586.12,298.62M570.76,293.95L586.12,308.69M570.76,304.02L580.12,313.00" stroke="#000" stroke-width="0.7" fill="none"/><rect x="570.76" y="232.73" width="15.36" height="80.27" fill="none" stroke="#000" stroke-width="0.7"/>
<rect x="586.12" y="256.70" width="15.36" height="56.30" fill="#8000FF"/><path d="M586.12,257.90L587.32,256.70M586.12,267.94L597.36,256.70M586.12,277.98L601.48,262.62M586.12,288.02L601.48,272.66M586.12,298.06L601.48,282.70M586.12,308.10L601.48,292.74M591.26,313.00L601.48,302.78M596.16,256.70L601.48,262.02M586.12,256.70L601.48,272.06M586.12,266.75L601.48,282.11M586.12,276.78L601.48,292.14M586.12,286.82L601.48,302.19M586.12,296.87L601.48,312.23M586.12,306.90L592.22,313.00" stroke="#000" stroke-width="0.7" fill="none"/><rect x="586.12" y="256.70" width="15.36" height="56.30" fill="none" stroke="#000" stroke-width="0.7"/>
<rect x="601.48" y="242.60" width="15.36" height="70.40" fill="#A2C3F5"/><path d="M603.0,244.1h1M606.0,244.1h1M609.0,244.1h1M612.0,244.1h1M615.0,244.1h1M604.5,247.1h1M607.5,247.1h1M610.5,247.1h1M613.5,247.1h1M603.0,250.1h1M606.0,250.1h1M609.0,250.1h1M612.0,250.1h1M615.0,250.1h1M604.5,253.1h1M607.5,253.1h1M610.5,253.1h1M613.5,253.1h1M603.0,256.1h1M606.0,256.1h1M609.0,256.1h1M612.0,256.1h1M615.0,256.1h1M604.5,259.1h1M607.5,259.1h1M610.5,259.1h1M613.5,259.1h1M603.0,262.1h1M606.0,262.1h1M609.0,262.1h1M612.0,262.1h1M615.0,262.1h1M604.5,265.1h1M607.5,265.1h1M610.5,265.1h1M613.5,265.1h1M603.0,268.1h1M606.0,268.1h1M609.0,268.1h1M612.0,268.1h1M615.0,268.1h1M604.5,271.1h1M607.5,271.1h1M610.5,271.1h1M613.5,271.1h1M603.0,274.1h1M606.0,274.1h1M609.0,274.1h1M612.0,274.1h1M615.0,274.1h1M604.5,277.1h1M607.5,277.1h1M610.5,277.1h1M613.5,277.1h1M603.0,280.1h1M606.0,280.1h1M609.0,280.1h1M612.0,280.1h1M615.0,280.1h1M604.5,283.1h1M607.5,283.1h1M610.5,283.1h1M613.5,283.1h1M603.0,286.1h1M606.0,286.1h1M609.0,286.1h1M612.0,286.1h1M615.0,286.1h1M604.5,289.1h1M607.5,289.1h1M610.5,289.1h1M613.5,289.1h1M603.0,292.1h1M606.0,292.1h1M609.0,292.1h1M612.0,292.1h1M615.0,292.1h1M604.5,295.1h1M607.5,295.1h1M610.5,295.1h1M613.5,295.1h1M603.0,298.1h1M606.0,298.1h1M609.0,298.1h1M612.0,298.1h1M615.0,298.1h1M604.5,301.1h1M607.5,301.1h1M610.5,301.1h1M613.5,301.1h1M603.0,304.1h1M606.0,304.1h1M609.0,304.1h1M612.0,304.1h1M615.0,304.1h1M604.5,307.1h1M607.5,307.1h1M610.5,307.1h1M613.5,307.1h1M603.0,310.1h1M606.0,310.1h1M609.0,310.1h1M612.0,310.1h1M615.0,310.1h1" stroke="#7FA0DC" stroke-opacity="0.3" stroke-width="1" fill="none"/><rect x="601.48" y="242.60" width="15.36" height="70.40" fill="none" stroke="#000" stroke-width="0.7"/>
<rect x="616.84" y="203.33" width="15.36" height="109.67" fill="#F0A3F0"/><path d="M621.00,203.33V313.00M626.40,203.33V313.00M631.80,203.33V313.00" stroke="#000" stroke-opacity="0.72" stroke-width="1.05" fill="none"/><path d="M618.30,203.33V313.00M623.70,203.33V313.00M629.10,203.33V313.00" stroke="#000" stroke-opacity="0.5" stroke-width="1.05" fill="none"/><path d="M616.84,205.20H632.20M616.84,210.90H632.20M616.84,216.60H632.20M616.84,222.30H632.20M616.84,228.00H632.20M616.84,233.70H632.20M616.84,239.40H632.20M616.84,245.10H632.20M616.84,250.80H632.20M616.84,256.50H632.20M616.84,262.20H632.20M616.84,267.90H632.20M616.84,273.60H632.20M616.84,279.30H632.20M616.84,285.00H632.20M616.84,290.70H632.20M616.84,296.40H632.20M616.84,302.10H632.20M616.84,307.80H632.20" stroke="#000" stroke-opacity="0.72" stroke-width="1.05" fill="none"/><path d="M616.84,208.05H632.20M616.84,213.75H632.20M616.84,219.45H632.20M616.84,225.15H632.20M616.84,230.85H632.20M616.84,236.55H632.20M616.84,242.25H632.20M616.84,247.95H632.20M616.84,253.65H632.20M616.84,259.35H632.20M616.84,265.05H632.20M616.84,270.75H632.20M616.84,276.45H632.20M616.84,282.15H632.20M616.84,287.85H632.20M616.84,293.55H632.20M616.84,299.25H632.20M616.84,304.95H632.20M616.84,310.65H632.20" stroke="#000" stroke-opacity="0.5" stroke-width="1.05" fill="none"/><rect x="616.84" y="203.33" width="15.36" height="109.67" fill="none" stroke="#000" stroke-width="0.7"/>
<g stroke="#000" fill="none" stroke-linecap="butt">
<path d="M68.05,0 V313.9" stroke-width="1.45"/>
<path d="M67.25,0.35 H644" stroke-width="1.7"/>
<path d="M643.85,0 V313.0" stroke-width="1.45"/>
<path d="M61.25,313.0 H644" stroke-width="1.7"/>
<path d="M61.25,243.5 H68.05" stroke-width="1.7"/>
<path d="M61.25,174.0 H68.05" stroke-width="1.7"/>
<path d="M61.25,104.49999999999997 H68.05" stroke-width="1.7"/>
<path d="M61.25,35.0 H68.05" stroke-width="1.7"/>
<path d="M125.55,313.0 V319.6" stroke-width="1.45"/>
<path d="M240.75,313.0 V319.6" stroke-width="1.45"/>
<path d="M355.95,313.0 V319.6" stroke-width="1.45"/>
<path d="M471.15,313.0 V319.6" stroke-width="1.45"/>
<path d="M586.35,313.0 V319.6" stroke-width="1.45"/>
<path d="M64.55,278.25 H68.05" stroke-width="1.3"/>
<path d="M64.55,208.75 H68.05" stroke-width="1.3"/>
<path d="M64.55,139.25 H68.05" stroke-width="1.3"/>
<path d="M64.55,69.75 H68.05" stroke-width="1.3"/>
<path d="M64.55,0.25 H68.05" stroke-width="1.3"/>
<path d="M68.05,313.0 V316.5" stroke-width="1.45"/>
<path d="M183.25,313.0 V316.5" stroke-width="1.45"/>
<path d="M298.45,313.0 V316.5" stroke-width="1.45"/>
<path d="M413.65,313.0 V316.5" stroke-width="1.45"/>
<path d="M528.85,313.0 V316.5" stroke-width="1.45"/>
<path d="M644.05,313.0 V316.5" stroke-width="1.45"/>
</g>
<text x="55.5" y="319.10" font-size="19.5" text-anchor="end">0.0</text>
<text x="55.5" y="249.60" font-size="19.5" text-anchor="end">0.1</text>
<text x="55.5" y="180.10" font-size="19.5" text-anchor="end">0.2</text>
<text x="55.5" y="110.60" font-size="19.5" text-anchor="end">0.3</text>
<text x="55.5" y="41.10" font-size="19.5" text-anchor="end">0.4</text>
<text transform="translate(126.00,339.7) scale(1.035,1)" font-size="19.5" text-anchor="middle">V<tspan dx="-1.15">ery</tspan><tspan dx="1.15"> agree</tspan></text>
<text transform="translate(241.20,339.7) scale(1.035,1)" font-size="19.5" text-anchor="middle">Agree</text>
<text transform="translate(356.40,339.7) scale(1.035,1)" font-size="19.5" text-anchor="middle">Uncertain</text>
<text transform="translate(470.30,339.7) scale(1.035,1)" font-size="19.5" text-anchor="middle">Disagree</text>
<text transform="translate(586.20,339.7) scale(1.025,1)" font-size="19.5" text-anchor="middle">V<tspan dx="-1.15">ery</tspan><tspan dx="1.15"> disagree</tspan></text>
<text x="355.7" y="376.7" font-size="21.4" text-anchor="middle">V<tspan dx="-1.3" letter-spacing="0.17">iewpoint</tspan></text>
<text transform="translate(15.4,155.7) rotate(-90)" font-size="21.5" text-anchor="middle">Proportion of population</text>
<rect x="353.5" y="12.5" width="209" height="52" fill="#fff" stroke="#BCBCBC" stroke-width="1"/>
<rect x="356.85" y="17.40" width="35.90" height="17.20" fill="#FF8000"/><rect x="356.85" y="17.40" width="35.90" height="17.20" fill="none" stroke="#000" stroke-width="0.85"/>
<rect x="422.60" y="17.40" width="35.90" height="17.20" fill="#00FF00"/><path d="M422.60,27.07L432.67,17.40M425.25,34.60L443.16,17.40M435.74,34.60L453.65,17.40M446.23,34.60L458.50,22.82M456.71,34.60L458.50,32.89" stroke="#000" stroke-width="0.7" fill="none"/><rect x="422.60" y="17.40" width="35.90" height="17.20" fill="none" stroke="#000" stroke-width="0.85"/>
<rect x="491.15" y="17.40" width="35.90" height="17.20" fill="#FFFF80"/><path d="M521.79,17.40L527.05,22.45M511.30,17.40L527.05,32.52M500.81,17.40L518.72,34.60M491.15,18.20L508.23,34.60M491.15,28.27L497.74,34.60" stroke="#000" stroke-width="0.7" fill="none"/><rect x="491.15" y="17.40" width="35.90" height="17.20" fill="none" stroke="#000" stroke-width="0.85"/>
<rect x="356.85" y="41.90" width="35.90" height="17.20" fill="#8000FF"/><path d="M356.85,43.10L358.05,41.90M356.85,53.14L368.09,41.90M360.93,59.10L378.13,41.90M370.97,59.10L388.17,41.90M381.01,59.10L392.75,47.36M391.05,59.10L392.75,57.40M386.97,41.90L392.75,47.68M376.93,41.90L392.75,57.72M366.89,41.90L384.09,59.10M356.85,41.90L374.05,59.10M356.85,51.94L364.01,59.10" stroke="#000" stroke-width="0.7" fill="none"/><rect x="356.85" y="41.90" width="35.90" height="17.20" fill="none" stroke="#000" stroke-width="0.85"/>
<rect x="422.60" y="41.90" width="35.90" height="17.20" fill="#A2C3F5"/><path d="M424.1,43.4h1M427.1,43.4h1M430.1,43.4h1M433.1,43.4h1M436.1,43.4h1M439.1,43.4h1M442.1,43.4h1M445.1,43.4h1M448.1,43.4h1M451.1,43.4h1M454.1,43.4h1M457.1,43.4h1M425.6,46.4h1M428.6,46.4h1M431.6,46.4h1M434.6,46.4h1M437.6,46.4h1M440.6,46.4h1M443.6,46.4h1M446.6,46.4h1M449.6,46.4h1M452.6,46.4h1M455.6,46.4h1M424.1,49.4h1M427.1,49.4h1M430.1,49.4h1M433.1,49.4h1M436.1,49.4h1M439.1,49.4h1M442.1,49.4h1M445.1,49.4h1M448.1,49.4h1M451.1,49.4h1M454.1,49.4h1M457.1,49.4h1M425.6,52.4h1M428.6,52.4h1M431.6,52.4h1M434.6,52.4h1M437.6,52.4h1M440.6,52.4h1M443.6,52.4h1M446.6,52.4h1M449.6,52.4h1M452.6,52.4h1M455.6,52.4h1M424.1,55.4h1M427.1,55.4h1M430.1,55.4h1M433.1,55.4h1M436.1,55.4h1M439.1,55.4h1M442.1,55.4h1M445.1,55.4h1M448.1,55.4h1M451.1,55.4h1M454.1,55.4h1M457.1,55.4h1M425.6,58.4h1M428.6,58.4h1M431.6,58.4h1M434.6,58.4h1M437.6,58.4h1M440.6,58.4h1M443.6,58.4h1M446.6,58.4h1M449.6,58.4h1M452.6,58.4h1M455.6,58.4h1" stroke="#7FA0DC" stroke-opacity="0.3" stroke-width="1" fill="none"/><rect x="422.60" y="41.90" width="35.90" height="17.20" fill="none" stroke="#000" stroke-width="0.85"/>
<rect x="491.15" y="41.90" width="35.90" height="17.20" fill="#F0A3F0"/><path d="M496.80,41.90V59.10M502.20,41.90V59.10M507.60,41.90V59.10M513.00,41.90V59.10M518.40,41.90V59.10M523.80,41.90V59.10" stroke="#000" stroke-opacity="0.72" stroke-width="1.05" fill="none"/><path d="M494.10,41.90V59.10M499.50,41.90V59.10M504.90,41.90V59.10M510.30,41.90V59.10M515.70,41.90V59.10M521.10,41.90V59.10M526.50,41.90V59.10" stroke="#000" stroke-opacity="0.5" stroke-width="1.05" fill="none"/><path d="M491.15,45.60H527.05M491.15,51.30H527.05M491.15,57.00H527.05" stroke="#000" stroke-opacity="0.72" stroke-width="1.05" fill="none"/><path d="M491.15,42.75H527.05M491.15,48.45H527.05M491.15,54.15H527.05" stroke="#000" stroke-opacity="0.5" stroke-width="1.05" fill="none"/><rect x="491.15" y="41.90" width="35.90" height="17.20" fill="none" stroke="#000" stroke-width="0.85"/>
<text x="397.5" y="32.3" font-size="19.0">A1</text>
<text x="463.3" y="32.3" font-size="19.0">A2</text>
<text x="532.8" y="32.3" font-size="19.0">A3</text>
<text x="398.0" y="57.2" font-size="19.0">B1</text>
<text x="467.5" y="57.2" font-size="19.0">B2</text>
<text x="537.2" y="57.2" font-size="19.0">B3</text>
</svg></body></html>
